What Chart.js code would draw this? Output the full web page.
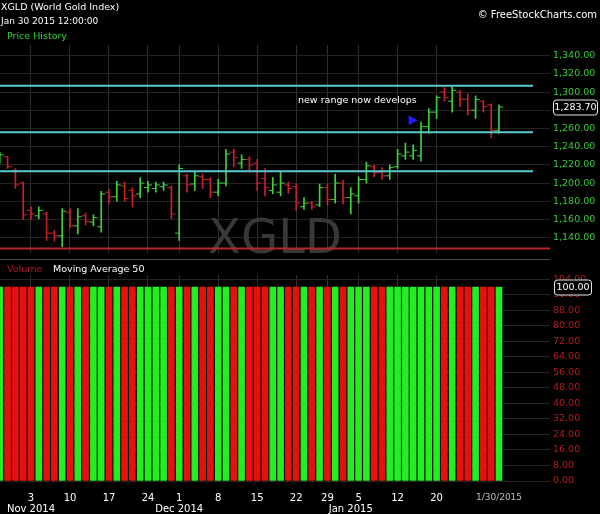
<!DOCTYPE html>
<html>
<head>
<meta charset="utf-8">
<script src="https://cdn.jsdelivr.net/npm/chart.js@4.4.1/dist/chart.umd.min.js"></script>
<style>
  html, body { margin: 0; padding: 0; background: #000; }
  #wrap { position: relative; width: 600px; height: 514px; overflow: hidden; background: #000;
          font-family: "DejaVu Sans", sans-serif; }
  .t { position: absolute; white-space: nowrap; line-height: 1; }
  #cPrice { position: absolute; left: 0; top: 0; }
  #cVol { position: absolute; left: 0; top: 262px; }
  #sep { position: absolute; left: 0; top: 259px; width: 550px; height: 1px; background: #4a4a4a; }
</style>
</head>
<body>
<div id="wrap">
  <canvas id="cPrice" width="600" height="262"></canvas>
  <canvas id="cVol" width="600" height="252"></canvas>
  <div id="sep"></div>
  <div class="t" style="left:1px;top:2px;font-size:9.5px;color:#fff;">XGLD (World Gold Index)</div>
  <div class="t" style="left:1px;top:17px;font-size:9px;color:#fff;">Jan 30 2015 12:00:00</div>
  <div class="t" style="left:7px;top:31px;font-size:9.5px;color:#2fd12f;">Price History</div>
  <div class="t" style="right:3px;top:10px;font-size:10px;color:#fff;">© FreeStockCharts.com</div>
  <div class="t" style="left:7px;top:264px;font-size:9.5px;color:#b3161a;">Volume</div>
  <div class="t" style="left:53px;top:264px;font-size:9.5px;color:#fff;">Moving Average 50</div>
</div>
<script>
// trading days shown, Oct 28 2014 .. Jan 30 2015
const dates = [
  '2014-10-28','2014-10-29','2014-10-30','2014-10-31',
  '2014-11-03','2014-11-04','2014-11-05','2014-11-06','2014-11-07',
  '2014-11-10','2014-11-11','2014-11-12','2014-11-13','2014-11-14',
  '2014-11-17','2014-11-18','2014-11-19','2014-11-20','2014-11-21',
  '2014-11-24','2014-11-25','2014-11-26','2014-11-28',
  '2014-12-01','2014-12-02','2014-12-03','2014-12-04','2014-12-05',
  '2014-12-08','2014-12-09','2014-12-10','2014-12-11','2014-12-12',
  '2014-12-15','2014-12-16','2014-12-17','2014-12-18','2014-12-19',
  '2014-12-22','2014-12-23','2014-12-24','2014-12-26',
  '2014-12-29','2014-12-30','2014-12-31','2015-01-02',
  '2015-01-05','2015-01-06','2015-01-07','2015-01-08','2015-01-09',
  '2015-01-12','2015-01-13','2015-01-14','2015-01-15','2015-01-16',
  '2015-01-20','2015-01-21','2015-01-22','2015-01-23',
  '2015-01-26','2015-01-27','2015-01-28','2015-01-29','2015-01-30'
];

const open = [
  1226, 1229, 1214, 1200,
  1170, 1164, 1166, 1145, 1142,
  1168, 1153, 1164, 1157, 1152,
  1190, 1185, 1197, 1192, 1188,
  1195, 1194, 1196, 1195,
  1145, 1208, 1199, 1207, 1204,
  1190, 1200, 1234, 1222, 1226,
  1222, 1205, 1192, 1190, 1198,
  1196, 1174, 1178, 1176,
  1195, 1182, 1200, 1184,
  1186, 1204, 1218, 1212, 1208,
  1218, 1230, 1230, 1230, 1262,
  1278, 1300, 1290, 1300,
  1292, 1280, 1290, 1286, 1258
];
const high = [
  1234, 1229, 1216, 1201,
  1174, 1174, 1168, 1148, 1172,
  1172, 1172, 1167, 1165, 1191,
  1193, 1202, 1201, 1195, 1206,
  1202, 1201, 1201, 1197,
  1220, 1210, 1213, 1210, 1206,
  1204, 1237, 1237, 1231, 1229,
  1226, 1216, 1206, 1212, 1201,
  1199, 1184, 1180, 1199,
  1199, 1210, 1203, 1195,
  1207, 1223, 1220, 1217, 1220,
  1237, 1244, 1242, 1267, 1282,
  1296, 1305, 1307, 1302,
  1298, 1296, 1291, 1287, 1286
];
const low = [
  1222, 1216, 1194, 1160,
  1160, 1161, 1137, 1136, 1130,
  1151, 1144, 1154, 1153, 1146,
  1177, 1180, 1180, 1174, 1184,
  1190, 1190, 1192, 1161,
  1137, 1190, 1192, 1194, 1184,
  1186, 1197, 1218, 1216, 1212,
  1192, 1186, 1188, 1186, 1189,
  1170, 1171, 1171, 1174,
  1176, 1178, 1177, 1166,
  1178, 1200, 1207, 1204, 1204,
  1216, 1226, 1226, 1224, 1255,
  1271, 1290, 1278, 1284,
  1275, 1271, 1278, 1250, 1255
];
const close = [
  1231, 1218, 1198, 1165,
  1166, 1170, 1145, 1142, 1169,
  1153, 1163, 1158, 1162, 1188,
  1185, 1198, 1183, 1186, 1200,
  1198, 1198, 1198, 1166,
  1216, 1198, 1208, 1204, 1190,
  1200, 1232, 1228, 1226, 1220,
  1200, 1195, 1198, 1200, 1194,
  1178, 1178, 1174, 1195,
  1182, 1200, 1184, 1188,
  1204, 1219, 1211, 1208, 1217,
  1232, 1234, 1236, 1262, 1278,
  1294, 1294, 1302, 1292,
  1280, 1292, 1284, 1258, 1283.7
];
const volume = dates.map(() => 100);

const rangeLines = [1307, 1256, 1213];
const supportLine = 1128;
const noteText = 'new range now develops';
const arrowPoint = { x: 52.8, y: 1269 };

const UP = '#3fcf3f', DOWN = '#c8202a';
const VUP = '#22ee22', VDOWN = '#e3110f';
const FONT = '"DejaVu Sans", sans-serif';
const X_MIN = 0.026, X_MAX = 70.54;

const idx = dates.map((d, i) => i);
const isUp = idx.map(i => close[i] >= open[i]);

// x tick labels: day number at first session of a week, month name at first session of a month
const dObj = dates.map(s => new Date(s + 'T12:00:00'));
const monthNames = ['Jan','Feb','Mar','Apr','May','Jun','Jul','Aug','Sep','Oct','Nov','Dec'];
const lastI = dates.length - 1;
const tickMap = {};
idx.forEach(i => {
  if (i === 0 || i > lastI - 6) return;
  const newWeek = dObj[i].getDay() <= dObj[i - 1].getDay();
  const newMonth = dObj[i].getMonth() !== dObj[i - 1].getMonth();
  if (newWeek || newMonth) {
    tickMap[i] = [newWeek ? String(dObj[i].getDate()) : '',
                  newMonth ? monthNames[dObj[i].getMonth()] + ' ' + dObj[i].getFullYear() : ''];
  }
});
const dl = dObj[lastI];
tickMap[lastI] = [(dl.getMonth() + 1) + '/' + dl.getDate() + '/' + dl.getFullYear()];
const tickIdx = Object.keys(tickMap).map(Number).sort((a, b) => a - b);

function fixedX(height) {
  return {
    type: 'linear', min: X_MIN, max: X_MAX, offset: false, bounds: 'data',
    afterBuildTicks: s => { s.ticks = tickIdx.map(v => ({ value: v })); },
    afterFit: s => { s.height = height; s.paddingLeft = 0; s.paddingRight = 0; },
    grid: {
      offset: false, drawTicks: false,
      color: c => (c.tick && tickMap[c.tick.value] && tickMap[c.tick.value][0] !== '' && c.tick.value !== lastI) ? '#2e2e2e' : 'rgba(0,0,0,0)'
    },
    border: { display: false },
    ticks: { display: false }
  };
}

const priceOverlay = {
  id: 'priceOverlay',
  beforeDatasetsDraw(chart) {
    const { ctx, chartArea } = chart;
    ctx.save();
    ctx.fillStyle = '#383838';
    ctx.font = '48px ' + FONT;
    ctx.textAlign = 'center';
    ctx.textBaseline = 'alphabetic';
    ctx.fillText('XGLD', 275, chartArea.bottom);
    ctx.restore();
  },
  afterDraw(chart) {
    const { ctx, chartArea, scales } = chart;
    ctx.save();
    ctx.fillStyle = '#fff';
    ctx.font = '9.5px ' + FONT;
    ctx.textAlign = 'left';
    ctx.textBaseline = 'middle';
    ctx.fillText(noteText, 298, 101);
    // last value box on the axis
    const y = Math.round(scales.y.getPixelForValue(close[lastI])) + 0.5;
    const x0 = chartArea.right + 3.5, x1 = 597.5;
    ctx.beginPath();
    ctx.roundRect(x0, y - 7.5, x1 - x0, 15, 3);
    ctx.fillStyle = '#000';
    ctx.fill();
    ctx.strokeStyle = '#e8e8e8';
    ctx.lineWidth = 1;
    ctx.stroke();
    ctx.fillStyle = '#fff';
    ctx.font = '9.5px ' + FONT;
    ctx.textAlign = 'center';
    ctx.fillText(close[lastI].toLocaleString('en-US', { minimumFractionDigits: 2, maximumFractionDigits: 2 }), (x0 + x1) / 2, y + 0.5);
    ctx.restore();
  }
};

const hLine = (v, xEnd, color) => ({
  type: 'line',
  data: [{ x: 0, y: v }, { x: xEnd, y: v }],
  borderColor: color, borderWidth: 2, pointRadius: 0, pointHoverRadius: 0, order: 0
});

new Chart(document.getElementById('cPrice'), {
  type: 'bar',
  data: {
    datasets: [
      {
        type: 'bar',
        data: idx.map(i => ({ x: i, y: [low[i], high[i]] })),
        backgroundColor: idx.map(i => isUp[i] ? UP : DOWN),
        barThickness: 1, order: 2
      },
      {
        type: 'scatter',
        data: idx.map(i => ({ x: i - 0.26, y: open[i] })),
        pointStyle: 'line', pointRadius: 2, pointBorderWidth: 1,
        pointBorderColor: idx.map(i => isUp[i] ? UP : DOWN), order: 1
      },
      {
        type: 'scatter',
        data: idx.map(i => ({ x: i + 0.26, y: close[i] })),
        pointStyle: 'line', pointRadius: 2, pointBorderWidth: 1,
        pointBorderColor: idx.map(i => isUp[i] ? UP : DOWN), order: 1
      },
      ...rangeLines.map(v => hLine(v, 68.36, '#5ccaca')),
      hLine(supportLine, X_MAX, '#b8262b'),
      {
        type: 'scatter',
        data: [arrowPoint],
        pointStyle: 'triangle', rotation: 90, pointRadius: 5,
        backgroundColor: '#1f1fff', borderColor: '#1f1fff', order: 0
      }
    ]
  },
  options: {
    responsive: false, animation: false, devicePixelRatio: 1,
    layout: { autoPadding: false, padding: { top: 45, bottom: 4, left: 0, right: 0 } },
    plugins: { legend: { display: false }, tooltip: { enabled: false } },
    scales: {
      x: fixedX(0),
      y: {
        position: 'right', min: 1122.8, max: 1351.8,
        afterFit: s => { s.width = 50; },
        grid: { color: '#232323', drawTicks: false },
        border: { display: false },
        ticks: {
          stepSize: 20, includeBounds: false, padding: 3,
          color: '#36cc36', font: { family: FONT, size: 9.5 },
          callback: v => Number(v).toLocaleString('en-US', { minimumFractionDigits: 2, maximumFractionDigits: 2 })
        }
      }
    }
  },
  plugins: [priceOverlay]
});

const volOverlay = {
  id: 'volOverlay',
  afterDraw(chart) {
    const { ctx, chartArea, scales } = chart;
    ctx.save();
    const y = Math.round(scales.y.getPixelForValue(volume[lastI])) + 0.5;
    const x0 = chartArea.right + 4.5, x1 = 591.5;
    ctx.beginPath();
    ctx.roundRect(x0, y - 7.5, x1 - x0, 15, 3);
    ctx.fillStyle = '#000';
    ctx.fill();
    ctx.strokeStyle = '#e8e8e8';
    ctx.lineWidth = 1;
    ctx.stroke();
    ctx.fillStyle = '#fff';
    ctx.font = '9.5px ' + FONT;
    ctx.textAlign = 'center';
    ctx.textBaseline = 'middle';
    ctx.fillText(volume[lastI].toFixed(2), (x0 + x1) / 2, y + 0.5);
    ctx.restore();
  }
};

const volX = fixedX(33);
volX.ticks = {
  display: true, autoSkip: false, maxRotation: 0, minRotation: 0, padding: 12,
  color: c => c.index === tickIdx.length - 1 ? '#bdbdbd' : '#ffffff',
  font: c => ({ family: FONT, size: c.index === tickIdx.length - 1 ? 9 : 10, lineHeight: 1.1 }),
  callback: v => tickMap[v]
};

new Chart(document.getElementById('cVol'), {
  type: 'bar',
  data: {
    datasets: [{
      data: idx.map(i => ({ x: i, y: volume[i] })),
      backgroundColor: idx.map(i => isUp[i] ? VUP : VDOWN),
      barThickness: 6
    }]
  },
  options: {
    responsive: false, animation: false, devicePixelRatio: 1,
    layout: { autoPadding: false, padding: { top: 13, bottom: 0, left: 0, right: 0 } },
    plugins: { legend: { display: false }, tooltip: { enabled: false } },
    scales: {
      x: volX,
      y: {
        position: 'right', min: 0, max: 106.2,
        afterFit: s => { s.width = 50; },
        grid: { color: '#262626', drawTicks: false },
        border: { display: false },
        ticks: {
          stepSize: 8, includeBounds: false, padding: 3,
          color: '#b81c1c', font: { family: FONT, size: 9.5 },
          callback: v => Number(v).toFixed(2)
        }
      }
    }
  },
  plugins: [volOverlay]
});
</script>
</body>
</html>
